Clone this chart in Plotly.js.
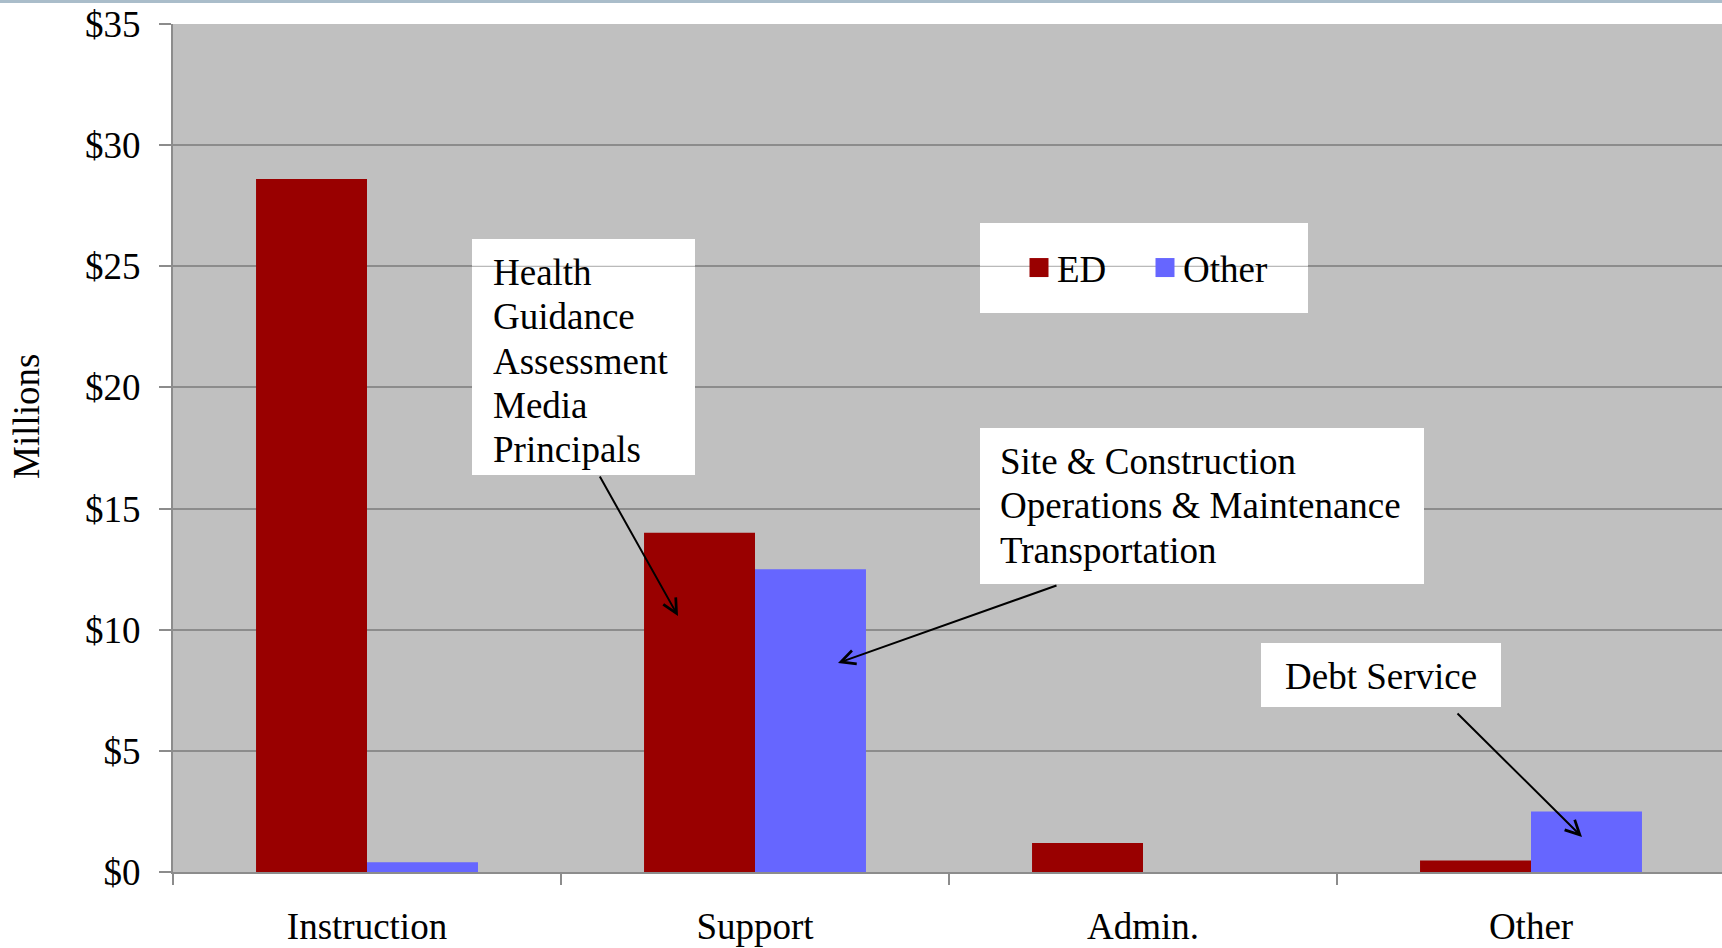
<!DOCTYPE html>
<html>
<head>
<meta charset="utf-8">
<script src="https://cdn.plot.ly/plotly-3.0.1.min.js"></script>
<style>html,body{margin:0;padding:0;background:#fff;overflow:hidden}</style>
</head>
<body>
<div id="chart" style="width:1722px;height:948px"></div>
<script>
// ---- data ----
const categories = ['Instruction', 'Support', 'Admin.', 'Other'];
const seriesNames = ['ED', 'Other'];
const edValues = [28.6, 14.0, 1.2, 0.47];
const otherValues = [0.4, 12.5, 0, 2.5];
const yTickValues = [0, 5, 10, 15, 20, 25, 30, 35];
const yTickLabels = ['$0', '$5', '$10', '$15', '$20', '$25', '$30', '$35'];
const yAxisTitle = 'Millions';
const noteSupportED = ['Health', 'Guidance', 'Assessment', 'Media', 'Principals'];
const noteSupportOther = ['Site & Construction', 'Operations & Maintenance', 'Transportation'];
const noteOtherOther = ['Debt Service'];

// ---- layout geometry (pixels) ----
const W = 1722, H = 948;
const L = 173, R = 1722, T = 24, B = 872;
const px2x = p => (p - L) / (R - L);
const py2y = p => (B - p) / (B - T);

const FONT = 'Liberation Serif, "Times New Roman", serif';
const FS = 37;
const GRID = '#8c8c8c';
const colors = ['#990000', '#6666ff'];

// note boxes
const boxes = [
  {x0: 472, x1: 695, y0: 239, y1: 475, tx: 492, b0: 285, lines: noteSupportED},
  {x0: 980, x1: 1424, y0: 428, y1: 584, tx: 999, b0: 474, lines: noteSupportOther},
  {x0: 1261, x1: 1501, y0: 643, y1: 707, tx: 1284, b0: 689, lines: noteOtherOther}
];
const LINE_STEP = 44.3;
const legendBox = {x0: 980, x1: 1308, y0: 223, y1: 313};

// arrows: tail -> tip in pixels
const arrows = [
  {tx: 599, ty: 475, hx: 678, hy: 616},
  {tx: 1058, ty: 585, hx: 838, hy: 663},
  {tx: 1456, ty: 712, hx: 1582, hy: 837}
];

const traces = [
  {type: 'bar', name: seriesNames[0], x: categories, y: edValues,
   marker: {color: colors[0], line: {width: 0}}},
  {type: 'bar', name: seriesNames[1], x: categories, y: otherValues,
   marker: {color: colors[1], line: {width: 0}}}
];

const shapes = [];
// top strip
shapes.push({type: 'rect', xref: 'paper', yref: 'paper', x0: px2x(0), x1: px2x(W), y0: py2y(3), y1: py2y(0),
  fillcolor: '#aabdca', line: {width: 0}, layer: 'above'});
// white boxes
[...boxes, legendBox].forEach(b => {
  shapes.push({type: 'rect', xref: 'paper', yref: 'paper', x0: px2x(b.x0), x1: px2x(b.x1),
    y0: py2y(b.y1), y1: py2y(b.y0), fillcolor: '#ffffff', line: {width: 0}, layer: 'above'});
});
// faint $25 gridline crossing the boxes it overlaps
[boxes[0], legendBox].forEach(b => {
  shapes.push({type: 'line', xref: 'paper', yref: 'y', x0: px2x(b.x0), x1: px2x(b.x1), y0: 25, y1: 25,
    line: {color: '#a8a8a8', width: 1}, layer: 'above'});
});

const annotations = [];
boxes.forEach(b => {
  b.lines.forEach((t, i) => {
    const base = b.b0 + i * LINE_STEP;
    annotations.push({text: t, xref: 'paper', yref: 'paper', x: px2x(b.tx), y: py2y(base - 0.34 * FS),
      xanchor: 'left', yanchor: 'middle', showarrow: false, borderpad: 0,
      font: {family: FONT, size: FS, color: '#000'}});
  });
});
arrows.forEach(a => {
  annotations.push({text: '', xref: 'paper', yref: 'paper', x: px2x(a.hx), y: py2y(a.hy),
    ax: a.tx - a.hx, ay: a.ty - a.hy, axref: 'pixel', ayref: 'pixel',
    showarrow: true, arrowhead: 5, arrowsize: 1.4, arrowwidth: 2, arrowcolor: '#000', standoff: 0});
});
annotations.push({text: yAxisTitle, xref: 'paper', yref: 'paper', x: px2x(26), y: py2y(417),
  textangle: -90, showarrow: false, xanchor: 'center', yanchor: 'middle',
  font: {family: FONT, size: FS, color: '#000'}});

const layout = {
  width: W, height: H,
  margin: {l: L, r: W - R, t: T, b: H - B, pad: 0},
  paper_bgcolor: '#ffffff',
  plot_bgcolor: '#c0c0c0',
  font: {family: FONT, size: FS, color: '#000'},
  barmode: 'group',
  bargap: 0.428,
  bargroupgap: 0,
  showlegend: true,
  legend: {
    orientation: 'h', x: px2x(1017), y: py2y(268), xanchor: 'left', yanchor: 'middle',
    bgcolor: 'rgba(0,0,0,0)', borderwidth: 0, font: {family: FONT, size: FS, color: '#000'},
    entrywidth: 81, entrywidthmode: 'pixels', traceorder: 'normal'
  },
  xaxis: {
    type: 'category', range: [-0.5, -0.5 + (R - L) / 388], fixedrange: true,
    showgrid: false, zeroline: false,
    showline: true, linecolor: GRID, linewidth: 2,
    ticks: 'outside', tickson: 'boundaries', ticklen: 11, tickwidth: 2, tickcolor: GRID,
    ticklabelstandoff: 21,
    tickfont: {family: FONT, size: FS, color: '#000'}
  },
  yaxis: {
    range: [0, 35], fixedrange: true,
    tickmode: 'array', tickvals: yTickValues, ticktext: yTickLabels,
    showgrid: true, gridcolor: GRID, gridwidth: 2,
    zeroline: false,
    showline: true, linecolor: GRID, linewidth: 2,
    ticks: 'outside', ticklen: 12, tickwidth: 2, tickcolor: GRID,
    ticklabelstandoff: 11,
    tickfont: {family: FONT, size: FS, color: '#000'}
  },
  shapes: shapes,
  annotations: annotations
};

Plotly.newPlot('chart', traces, layout, {displayModeBar: false, staticPlot: true}).then(gd => {
  // enlarge the legend swatches to match the reference's square markers
  gd.querySelectorAll('.legend .legendpoints path').forEach(p => {
    p.setAttribute('d', 'M11.5,9.5H-7.5V-9.5H11.5Z');
  });
});
</script>
</body>
</html>
